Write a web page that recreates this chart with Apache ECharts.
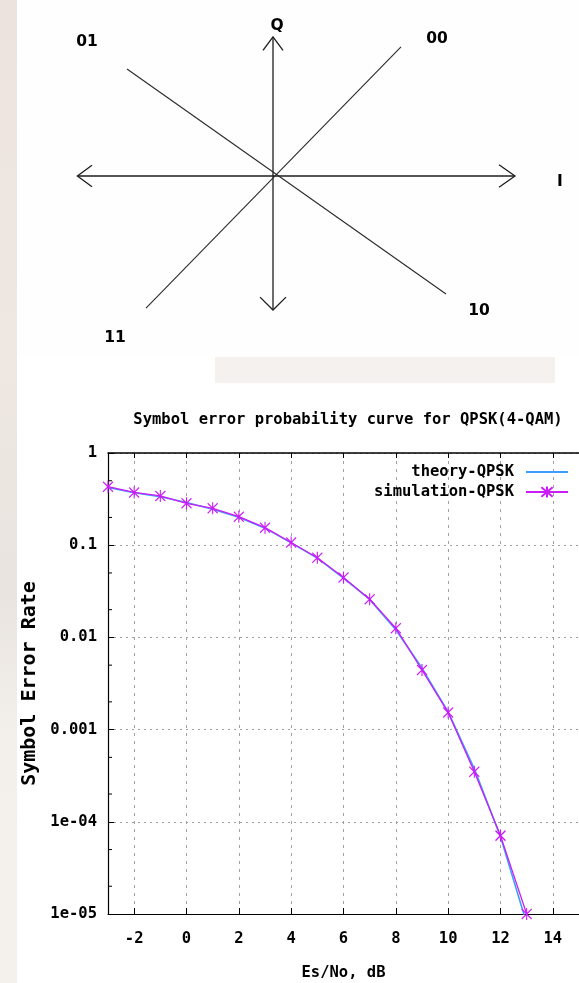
<!DOCTYPE html>
<html>
<head>
<meta charset="utf-8">
<script src="https://cdn.jsdelivr.net/npm/echarts@6/dist/echarts.min.js"></script>
<style>
html,body{margin:0;padding:0;background:#fff;}
#c{width:579px;height:983px;}
</style>
</head>
<body>
<div id="c"></div>
<script>
// ---------- Data: SER curve ----------
const snrDb = [-3,-2,-1,0,1,2,3,4,5,6,7,8,9,10,11,12,13];
const theorySer = [0.423,0.371,0.336,0.290,0.246,0.201,0.153,0.106,0.0725,0.0440,0.0258,0.0121,0.00465,0.00156,0.000375,0.0000690,0.0000079];
const simulationSer = [0.431,0.374,0.342,0.285,0.251,0.204,0.155,0.107,0.073,0.0446,0.0259,0.0126,0.00443,0.00153,0.000349,0.0000708,0.0000100];
const xTicks = [-2,0,2,4,6,8,10,12,14];
const yTickValues = [1,0.1,0.01,0.001,0.0001,0.00001];
const yTickLabels = ['1','0.1','0.01','0.001','1e-04','1e-05'];
const yMinorTicks = [0.5,0.2,0.05,0.02,0.005,0.002,0.0005,0.0002,0.00005,0.00002];
const xRange = [-3,15];
const yRange = [0.00001,1];
const chartTitle = 'Symbol error probability curve for QPSK(4-QAM)';
const xName = 'Es/No, dB';
const yName = 'Symbol Error Rate';
const seriesNames = ['theory-QPSK','simulation-QPSK'];

// ---------- Data: QPSK constellation diagram ----------
const diagramAxes = [
  [[-0.978,0],[1.21,0]],
  [[0,1.03],[0,-0.993]]
];
const diagramDiagonals = [
  [[-0.73,0.793],[0.865,-0.874]],
  [[0.64,0.956],[-0.635,-0.978]]
];
const diagramArrowHeads = [
  [[1.13,0.083],[1.21,0],[1.13,-0.083]],
  [[-0.905,0.08],[-0.978,0],[-0.905,-0.08]],
  [[-0.05,0.93],[0,1.03],[0.05,0.93]],
  [[-0.065,-0.897],[0,-0.993],[0.065,-0.897]]
];
const diagramLabels = [
  ['Q',0.02,1.11],
  ['I',1.435,-0.044],
  ['01',-0.93,0.99],
  ['00',0.82,1.015],
  ['11',-0.79,-1.2],
  ['10',1.03,-1.0]
];

const mono = "'DejaVu Sans Mono', monospace";
const blue = '#3d9eff';
const magenta = '#cc1cf5';

const chart = echarts.init(document.getElementById('c'), null, {renderer:'canvas'});

const yLabelMap = {};
yTickValues.forEach((v,i)=>{ yLabelMap[v.toExponential()] = yTickLabels[i]; });

const option = {
  backgroundColor: '#ffffff',
  animation: false,
  graphic: [
    {type:'rect', silent:true, z:-10, shape:{x:0,y:0,width:17,height:983},
     style:{fill:new echarts.graphic.LinearGradient(0,0,0,1,[
       {offset:0,color:'#ece3df'},{offset:0.35,color:'#efe8e2'},{offset:0.6,color:'#e9e4e0'},{offset:0.75,color:'#f3efea'},{offset:1,color:'#f4f1ec'}])}},
    {type:'rect', silent:true, z:-10, shape:{x:215,y:357,width:340,height:26},
     style:{fill:'#f3f0ec', opacity:0.9}},
    {type:'rect', silent:true, z:-9, shape:{x:17,y:0,width:562,height:357}, style:{fill:'#fefefe'}},
    {type:'rect', silent:true, z:-9, shape:{x:17,y:383,width:562,height:600}, style:{fill:'#ffffff'}}
  ],
  title: {
    text: chartTitle,
    left: 343, textAlign: 'center',
    top: 407,
    textStyle: {fontFamily: mono, fontSize: 15.5, fontWeight: 'bold', color: '#000'}
  },
  legend: {
    data: [
      {name: seriesNames[0], itemStyle:{opacity:0}},
      {name: seriesNames[1]}
    ],
    orient: 'vertical',
    align: 'right',
    right: 5,
    top: 459,
    itemWidth: 42,
    itemHeight: 14,
    itemGap: 4,
    textStyle: {fontFamily: mono, fontSize: 15.5, fontWeight: 'bold', color: '#000', padding:[0,7,0,0]}
  },
  grid: [
    {left:108, top:453, width:475, height:461},
    {left:13, top:0.5, width:560, height:351}
  ],
  xAxis: [
    {
      type:'value', gridIndex:0, min:xRange[0], max:xRange[1],
      name: xName, nameLocation:'middle', nameGap:51,
      nameTextStyle:{fontFamily:mono, fontSize:15.5, fontWeight:'bold', color:'#000'},
      axisLine:{show:true, onZero:false, lineStyle:{color:'#000', width:1.2}},
      axisTick:{show:true, inside:true, length:6, customValues:xTicks, lineStyle:{color:'#000'}},
      axisLabel:{show:true, customValues:xTicks, margin:17, fontFamily:mono, fontSize:15.5, fontWeight:'bold', color:'#000'},
      splitLine:{show:true, lineStyle:{color:'#a0a0a0', type:[3,5], width:1}}
    },
    {
      type:'value', gridIndex:0, position:'top', min:xRange[0], max:xRange[1],
      axisLine:{show:true, onZero:false, lineStyle:{color:'#000', width:1.5}},
      axisTick:{show:true, inside:true, length:5, customValues:xTicks, lineStyle:{color:'#000'}},
      axisLabel:{show:false},
      splitLine:{show:false}
    },
    {type:'value', gridIndex:1, min:-1.3, max:1.5, show:false}
  ],
  yAxis: [
    {
      type:'log', gridIndex:0, logBase:10, min:yRange[0], max:yRange[1], interval:1,
      name: yName, nameLocation:'middle', nameGap:53, nameRotate:90,
      nameTextStyle:{fontFamily:mono, fontSize:20, fontWeight:'bold', color:'#000'},
      axisLine:{show:true, onZero:false, lineStyle:{color:'#000', width:1.2}},
      axisTick:{show:true, inside:true, length:6, lineStyle:{color:'#000'}},
      axisLabel:{show:true, margin:11, fontFamily:mono, fontSize:15.5, fontWeight:'bold', color:'#000',
        formatter: function(v){ const k = Number(v).toExponential(); return yLabelMap[k] !== undefined ? yLabelMap[k] : ''; }},
      splitLine:{show:true, lineStyle:{color:'#a0a0a0', type:[2,4], width:1}}
    },
    {type:'value', gridIndex:1, min:-1.3, max:1.3, show:false}
  ],
  series: [
    {
      name: seriesNames[0], type:'line', xAxisIndex:0, yAxisIndex:0,
      data: snrDb.map((x,i)=>[x, theorySer[i]]),
      symbol:'none', lineStyle:{color:blue, width:1.6}, itemStyle:{color:blue}, z:3
    },
    {
      name: seriesNames[1], type:'line', xAxisIndex:0, yAxisIndex:0,
      data: snrDb.map((x,i)=>[x, simulationSer[i]]),
      symbol:'path://M0,0L10,10M10,0L0,10M5,-1L5,11', symbolSize:[10,12],
      lineStyle:{color:magenta, width:1.3},
      itemStyle:{color:magenta, borderColor:magenta, borderWidth:1.2},
      z:4
    },
    {
      type:'custom', xAxisIndex:0, yAxisIndex:0, silent:true, clip:false,
      data: yMinorTicks.map(v=>[xRange[0], v]),
      renderItem: function(params, api){
        const p = api.coord([api.value(0), api.value(1)]);
        return {type:'line', shape:{x1:p[0], y1:p[1], x2:p[0]+4, y2:p[1]}, style:{stroke:'#000', lineWidth:1}};
      }
    },
    {
      type:'lines', coordinateSystem:'cartesian2d', xAxisIndex:2, yAxisIndex:1, polyline:true, silent:true,
      data: diagramAxes.concat(diagramArrowHeads).map(c=>({coords:c})),
      lineStyle:{color:'#1e1e1e', width:1.3, opacity:1}
    },
    {
      type:'lines', coordinateSystem:'cartesian2d', xAxisIndex:2, yAxisIndex:1, polyline:true, silent:true,
      data: diagramDiagonals.map(c=>({coords:c})),
      lineStyle:{color:'#2a2a2a', width:1.1, opacity:1}
    },
    {
      type:'scatter', xAxisIndex:2, yAxisIndex:1, silent:true, symbolSize:0,
      itemStyle:{opacity:1},
      data: diagramLabels.map(d=>({name:d[0], value:[d[1], d[2]]})),
      label:{show:true, position:'inside', formatter:'{b}', fontFamily:"'DejaVu Sans', sans-serif", fontWeight:'bold', fontSize:15.5, color:'#000', opacity:1}
    }
  ]
};
chart.setOption(option);
</script>
</body>
</html>
